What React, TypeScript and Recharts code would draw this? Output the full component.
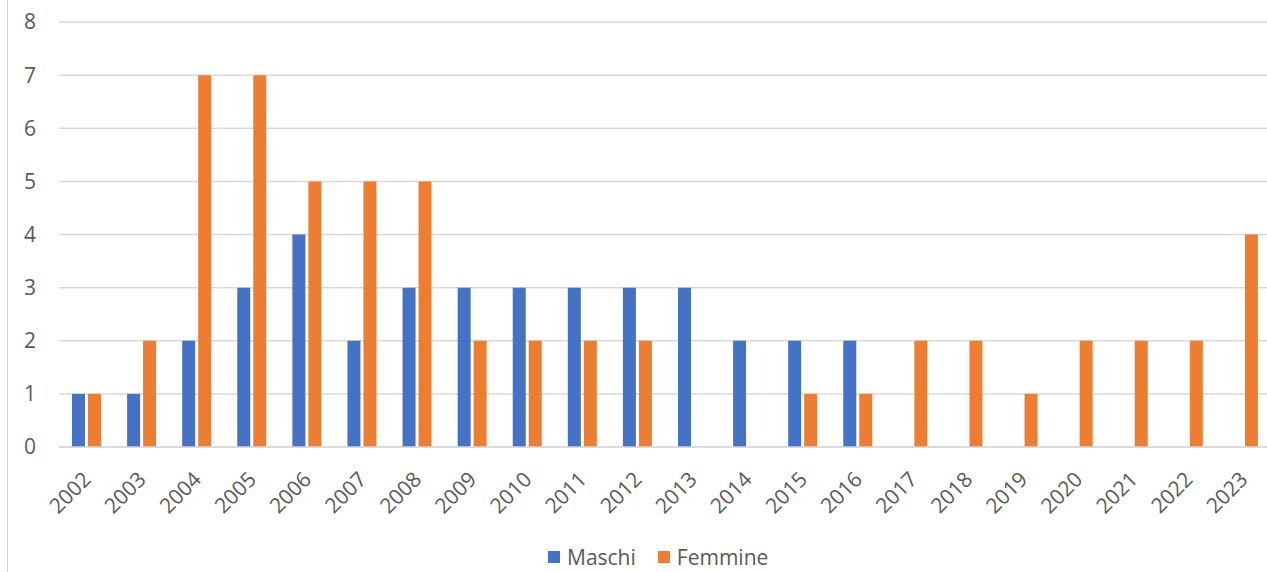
import { Bar, BarChart, CartesianGrid, Legend, XAxis, YAxis } from "recharts";

const years = [
  "2002", "2003", "2004", "2005", "2006", "2007", "2008", "2009", "2010", "2011", "2012",
  "2013", "2014", "2015", "2016", "2017", "2018", "2019", "2020", "2021", "2022", "2023",
];
const maschi = [1, 1, 2, 3, 4, 2, 3, 3, 3, 3, 3, 3, 2, 2, 2, 0, 0, 0, 0, 0, 0, 0];
const femmine = [1, 2, 7, 7, 5, 5, 5, 2, 2, 2, 2, 0, 0, 1, 1, 2, 2, 1, 2, 2, 2, 4];
const yTicks = [0, 1, 2, 3, 4, 5, 6, 7, 8];

const data = years.map((year, i) => ({ year, maschi: maschi[i], femmine: femmine[i] }));

const TEXT = "#595959";
const GRID = "#D9D9D9";
const FONT = "'Open Sans', Lato, sans-serif";

const series = [
  { key: "maschi", name: "Maschi", color: "#4472C4" },
  { key: "femmine", name: "Femmine", color: "#ED7D31" },
];

function YearTick({ x, y, payload }: any) {
  const ty = y + 28;
  return (
    <text
      x={x}
      y={ty}
      transform={`rotate(-45 ${x} ${ty})`}
      textAnchor="end"
      dominantBaseline="central"
      fill={TEXT}
      fontSize={21}
      fontFamily={FONT}
    >
      {payload.value}
    </text>
  );
}

function ChartLegend() {
  return (
    <div style={{ display: "flex", alignItems: "center", height: 30, fontFamily: FONT, fontSize: 21, color: TEXT }}>
      {series.map((s) => (
        <span key={s.key} style={{ display: "flex", alignItems: "center", marginRight: 22 }}>
          <span style={{ width: 12, height: 12, background: s.color, marginRight: 7 }} />
          {s.name}
        </span>
      ))}
    </div>
  );
}

export default function App() {
  return (
    <div style={{ position: "absolute", left: 0, top: 0, width: 1267, height: 572, overflow: "hidden", background: "#fff" }}>
      <div style={{ position: "absolute", left: 7, top: 0, width: 1, height: 572, background: "#D0D0D0" }} />
      <BarChart
        width={1271}
        height={572}
        data={data}
        margin={{ top: 22, right: 0, bottom: 0, left: 0 }}
        barGap={3}
        barCategoryGap="47%"
      >
        <CartesianGrid vertical={false} stroke={GRID} strokeWidth={1.5} />
        <XAxis
          dataKey="year"
          height={95}
          interval={0}
          tickLine={false}
          tickSize={0}
          tickMargin={0}
          axisLine={{ stroke: GRID, strokeWidth: 1.5 }}
          tick={<YearTick />}
        />
        <YAxis
          width={59}
          domain={[0, 8]}
          ticks={yTicks}
          interval={0}
          tickLine={false}
          axisLine={false}
          tickSize={0}
          tickMargin={23}
          tick={{ fill: TEXT, fontSize: 21, fontFamily: FONT }}
        />
        <Legend
          verticalAlign="bottom"
          align="left"
          height={30}
          wrapperStyle={{ left: 548, width: "auto" }}
          content={<ChartLegend />}
        />
        {series.map((s) => (
          <Bar key={s.key} dataKey={s.key} name={s.name} fill={s.color} barSize={13} isAnimationActive={false} />
        ))}
      </BarChart>
    </div>
  );
}
